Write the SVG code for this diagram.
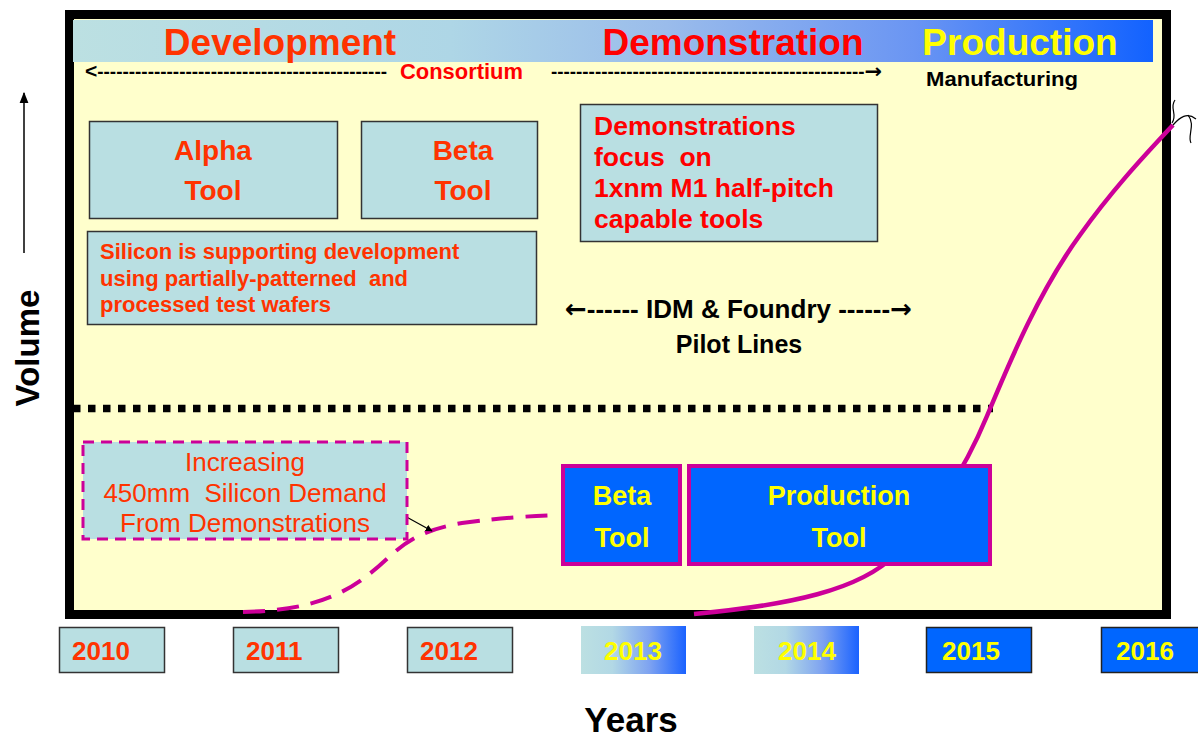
<svg xmlns="http://www.w3.org/2000/svg" width="1198" height="739" viewBox="0 0 1198 739">
<defs>
<linearGradient id="hdr" x1="0" y1="0" x2="1" y2="0">
<stop offset="0" stop-color="#BCE0E2"/>
<stop offset="0.35" stop-color="#AED6E6"/>
<stop offset="0.55" stop-color="#9ABCEB"/>
<stop offset="0.78" stop-color="#6A95F3"/>
<stop offset="1" stop-color="#1262FF"/>
</linearGradient>
<linearGradient id="yr" x1="0" y1="0" x2="1" y2="0">
<stop offset="0" stop-color="#BCE0E2"/>
<stop offset="0.3" stop-color="#B2D8E5"/>
<stop offset="0.65" stop-color="#7EA3F1"/>
<stop offset="1" stop-color="#1A62FF"/>
</linearGradient>
<marker id="ah" viewBox="0 0 10 10" refX="9" refY="5" markerWidth="7" markerHeight="7" orient="auto" markerUnits="userSpaceOnUse">
<path d="M0,0 L10,5 L0,10 z" fill="#000"/>
</marker>
<marker id="ah2" viewBox="0 0 10 10" refX="9" refY="5" markerWidth="11" markerHeight="11" orient="auto" markerUnits="userSpaceOnUse">
<path d="M0,1 L10,5 L0,9 z" fill="#000"/>
</marker>
</defs>
<style>
text{font-family:"Liberation Sans",Arial,sans-serif}
.b{font-weight:bold}
.ar{font-family:"DejaVu Sans",sans-serif}
.teal{fill:#B9DFE2;stroke:#333;stroke-width:1.5}
.red{fill:#FF3300}
.pure{fill:#FF0000}
.yel{fill:#FFFF00}
.blk{fill:#000}
.blue{fill:#0066FF;stroke:#CC0099;stroke-width:4}
.yb{fill:#0066FF;stroke:#222;stroke-width:1.5}
</style>
<rect width="1198" height="739" fill="#fff"/>
<rect id="frame" x="69.5" y="14.5" width="1097" height="600" fill="#FFFFCC" stroke="#000" stroke-width="9"/>
<g id="header">
<rect x="73" y="20" width="1080" height="42" fill="url(#hdr)"/>
<text x="280" y="55" text-anchor="middle" font-size="37" class="b red">Development</text>
<text x="733" y="55" text-anchor="middle" font-size="37" class="b pure">Demonstration</text>
<text x="1020" y="55" text-anchor="middle" font-size="37" class="b yel">Production</text>
</g>
<g id="consortium">
<text x="85" y="78" font-size="18" class="b blk" textLength="302" lengthAdjust="spacingAndGlyphs"><tspan font-size="20">&lt;</tspan>----------------------------------------------</text>
<text x="400" y="79" font-size="22" class="b pure" textLength="123" lengthAdjust="spacingAndGlyphs">Consortium</text>
<text x="551" y="78" font-size="18" class="b blk" textLength="331" lengthAdjust="spacingAndGlyphs">--------------------------------------------------<tspan class="ar" font-size="20">→</tspan></text>
<text x="926" y="86" font-size="21" class="b blk" textLength="152" lengthAdjust="spacingAndGlyphs">Manufacturing</text>
</g>
<g id="alpha-tool">
<rect x="89.5" y="121.5" width="248" height="97" class="teal"/>
<text x="213" y="160" text-anchor="middle" font-size="28" class="b red">Alpha</text>
<text x="213" y="200" text-anchor="middle" font-size="28" class="b red">Tool</text>
</g>
<g id="beta-tool-dev">
<rect x="361.5" y="121.5" width="176" height="97" class="teal"/>
<text x="463" y="160" text-anchor="middle" font-size="28" class="b red">Beta</text>
<text x="463" y="200" text-anchor="middle" font-size="28" class="b red">Tool</text>
</g>
<g id="silicon">
<rect x="87.5" y="231.5" width="449" height="93" class="teal"/>
<text font-size="22" class="b red" xml:space="preserve"><tspan x="100" y="259">Silicon is supporting development</tspan><tspan x="100" y="286">using partially-patterned  and</tspan><tspan x="100" y="312">processed test wafers</tspan></text>
</g>
<g id="demonstrations">
<rect x="580.5" y="104.5" width="297" height="137" class="teal"/>
<text font-size="26.5" class="b pure" xml:space="preserve"><tspan x="594" y="135">Demonstrations</tspan><tspan x="594" y="166">focus  on</tspan><tspan x="594" y="197">1xnm M1 half-pitch</tspan><tspan x="594" y="228">capable tools</tspan></text>
</g>
<g id="pilot-lines">
<text x="565" y="318" font-size="26" class="b blk" textLength="347" lengthAdjust="spacingAndGlyphs"><tspan class="ar">←</tspan>------ IDM &amp; Foundry ------<tspan class="ar">→</tspan></text>
<text x="739" y="353" text-anchor="middle" font-size="25" class="b blk">Pilot Lines</text>
</g>
<g id="connectors" fill="none">
<line x1="73" y1="408.5" x2="993" y2="408.5" stroke="#000" stroke-width="7.5" stroke-dasharray="7.5 7.5"/>
<path d="M243,612 C320,610 352,592 390,556 C410,538 428,529 462,523 C500,518 530,516 557,515" stroke="#CC0099" stroke-width="4" stroke-dasharray="22 12"/>
<path d="M694,614 C790,605 860,590 895,555 C932,518 962,476 987,416 C1012,356 1040,290 1080,235 C1110,193 1140,160 1173,125" stroke="#CC0099" stroke-width="4.5"/>
<line x1="392" y1="509" x2="432" y2="531" stroke="#000" stroke-width="1.2" marker-end="url(#ah)"/>
<line x1="24" y1="253" x2="24" y2="93" stroke="#000" stroke-width="1.5" marker-end="url(#ah2)"/>
<path d="M1175,100 C1169,108 1178,114 1172,123" stroke="#000" stroke-width="1.2"/>
<path d="M1173,125 C1180,117 1187,112 1196,119" stroke="#000" stroke-width="1.2"/>
<path d="M1188,115 C1196,125 1187,136 1191,143" stroke="#000" stroke-width="1.2"/>
</g>
<g id="increasing">
<rect x="83" y="442" width="324" height="97" fill="#B9DFE2" stroke="#CC0099" stroke-width="3" stroke-dasharray="11 7"/>
<text text-anchor="middle" font-size="26" class="red" xml:space="preserve"><tspan x="245" y="471">Increasing</tspan><tspan x="245" y="502">450mm  Silicon Demand</tspan><tspan x="245" y="532">From Demonstrations</tspan></text>
</g>
<g id="beta-tool-demo">
<rect x="563" y="466" width="117" height="98" class="blue"/>
<text x="622" y="505" text-anchor="middle" font-size="27" class="b yel">Beta</text>
<text x="622" y="547" text-anchor="middle" font-size="27" class="b yel">Tool</text>
</g>
<g id="production-tool">
<rect x="689" y="466" width="301" height="98" class="blue"/>
<text x="839" y="505" text-anchor="middle" font-size="27" class="b yel">Production</text>
<text x="839" y="547" text-anchor="middle" font-size="27" class="b yel">Tool</text>
</g>
<g id="y2010"><rect x="59.5" y="627.5" width="105" height="45" class="teal"/><text x="72" y="660" font-size="26" class="b red">2010</text></g>
<g id="y2011"><rect x="233.5" y="627.5" width="105" height="45" class="teal"/><text x="246" y="660" font-size="26" class="b red">2011</text></g>
<g id="y2012"><rect x="407.5" y="627.5" width="105" height="45" class="teal"/><text x="420" y="660" font-size="26" class="b red">2012</text></g>
<g id="y2013"><rect x="581" y="626" width="105" height="48" fill="url(#yr)"/><text x="604" y="660" font-size="26" class="b yel">2013</text></g>
<g id="y2014"><rect x="754" y="626" width="105" height="48" fill="url(#yr)"/><text x="778" y="660" font-size="26" class="b yel">2014</text></g>
<g id="y2015"><rect x="926.5" y="627.5" width="105" height="45" class="yb"/><text x="942" y="660" font-size="26" class="b yel">2015</text></g>
<g id="y2016"><rect x="1101.5" y="627.5" width="105" height="45" class="yb"/><text x="1116" y="660" font-size="26" class="b yel">2016</text></g>
<g id="axes">
<text x="631" y="732" text-anchor="middle" font-size="35" class="b blk">Years</text>
<text transform="translate(39,348) rotate(-90)" text-anchor="middle" font-size="33" class="b blk">Volume</text>
</g>
</svg>
